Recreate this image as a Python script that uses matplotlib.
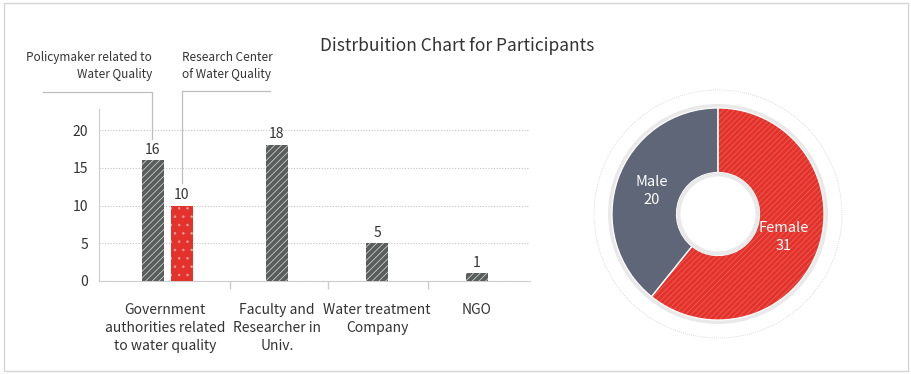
import numpy as np
import matplotlib
matplotlib.use("Agg")
import matplotlib.pyplot as plt
from matplotlib.patches import Rectangle, Circle

plt.rcParams['font.family'] = ['Noto Sans CJK KR', 'DejaVu Sans']
plt.rcParams['hatch.linewidth'] = 0.6

# data
categories = ['Government\nauthorities related\nto water quality',
              'Faculty and\nResearcher in\nUniv.',
              'Water treatment\nCompany',
              'NGO']
cat_pos = [-0.12, 1, 2, 3]
policy_vals = [16, 18, 5, 1]          # grey hatched bars
research_vals = [10]                  # red dotted bar (first group only)
gender_labels = ['Female', 'Male']
gender_vals = [31, 20]

grey = '#595e5d'
red = '#e2322b'
txt = '#333333'

fig = plt.figure(figsize=(9.12, 3.74), dpi=100)
fig.patches.append(Rectangle((0.004, 0.008), 0.992, 0.984, transform=fig.transFigure,
                             fill=False, edgecolor='#d6d6d6', linewidth=1))

fig.text(0.5015, 0.878, 'Distrbuition Chart for Participants', ha='center', va='center',
         fontsize=12.5, color=txt, fontweight='medium')

# ---- bar chart ----
ax = fig.add_axes([99 / 912, 1 - 281 / 374, 431 / 912, 172 / 374])
bx = [cat_pos[0] - 0.12, cat_pos[1], cat_pos[2], cat_pos[3]]
b1 = ax.bar(bx, policy_vals, width=0.22, color=grey, edgecolor='#c8cccb',
            linewidth=0, hatch='/////', zorder=3)
b2 = ax.bar([cat_pos[0] + 0.17], research_vals, width=0.22, color=red, edgecolor='#f29a94',
            linewidth=0, hatch='..', zorder=3)
for bars, vals in ((b1, policy_vals), (b2, research_vals)):
    for r, v in zip(bars, vals):
        ax.text(r.get_x() + r.get_width() / 2, v + 0.5, str(v), ha='center', va='bottom',
                fontsize=10, color=txt)

ax.set_xlim(-0.78, 3.53)
ax.set_ylim(0, 22.8)
ax.set_yticks([0, 5, 10, 15, 20])
ax.grid(axis='y', linestyle=(0, (1, 1.5)), color='#c4c4c4', linewidth=0.8, zorder=0)
for s in ['top', 'right']:
    ax.spines[s].set_visible(False)
ax.spines['left'].set_color('#cccccc')
ax.spines['bottom'].set_color('#cccccc')
ax.tick_params(axis='y', length=0, pad=8, labelsize=10, labelcolor=txt)
ax.set_xticks(cat_pos)
ax.set_xticklabels(categories, fontsize=10, color=txt, linespacing=1.35)
ax.tick_params(axis='x', which='major', length=0, pad=16)
ax.set_xticks([0.53, 1.51, 2.51], minor=True)
ax.tick_params(axis='x', which='minor', length=6, color='#cccccc', width=1)

# callout annotations
fig.lines.append(plt.Line2D([43 / 912, 152 / 912, 152 / 912],
                            [1 - 92 / 374, 1 - 92 / 374, 1 - 139 / 374],
                            transform=fig.transFigure, color='#bdbdbd', linewidth=0.9))
fig.lines.append(plt.Line2D([270 / 912, 182 / 912, 182 / 912],
                            [1 - 91 / 374, 1 - 91 / 374, 1 - 183 / 374],
                            transform=fig.transFigure, color='#bdbdbd', linewidth=0.9))
fig.text(152 / 912, 1 - 66 / 374, 'Policymaker related to\nWater Quality', ha='right',
         va='center', fontsize=8.5, color=txt, multialignment='right', linespacing=1.35)
fig.text(182 / 912, 1 - 66 / 374, 'Research Center\nof Water Quality', ha='left',
         va='center', fontsize=8.5, color=txt, multialignment='left', linespacing=1.35)

# ---- donut ----
pax = fig.add_axes([(718 - 130) / 912, (374 - 214 - 130) / 374, 260 / 912, 260 / 374])
pax.add_patch(Circle((0, 0), 1.24, fill=False, edgecolor='#d0d0d0', linewidth=0.6,
                     linestyle=(0, (1, 1.5))))
pax.add_patch(Circle((0, 0), 1.10, facecolor='#e9e9e9', edgecolor='none'))
wedges, texts = pax.pie(gender_vals, labels=[f'{l}\n{v}' for l, v in zip(gender_labels, gender_vals)],
                        colors=[red, '#5f6678'], startangle=90, counterclock=False,
                        radius=1.06, labeldistance=0.66,
                        wedgeprops=dict(width=0.645, linewidth=0),
                        textprops=dict(color='white', fontsize=10.5))
wedges[0].set_hatch('//////')
wedges[0].set_edgecolor('#ee5d55')
pax.pie(gender_vals, startangle=90, counterclock=False, radius=1.06,
        colors=['none', 'none'], wedgeprops=dict(width=0.645, linewidth=0.9, edgecolor='white'))
for t in texts:
    t.set_ha('center')
    t.set_va('center')
    t.set_multialignment('center')
    t.set_linespacing(1.4)
pax.add_patch(Circle((0, 0), 0.415, facecolor='#e9e9e9', edgecolor='none', zorder=5))
pax.add_patch(Circle((0, 0), 0.375, facecolor='white', edgecolor='none', zorder=6))
pax.set_xlim(-1.3, 1.3)
pax.set_ylim(-1.3, 1.3)
pax.set_aspect('equal')
pax.axis('off')

fig.savefig('out.png', dpi=100)
